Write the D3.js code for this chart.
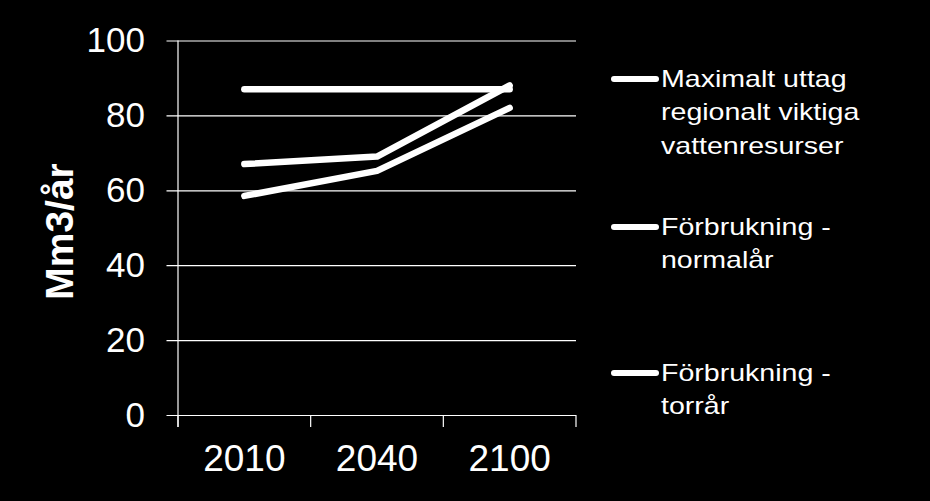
<!DOCTYPE html>
<html>
<head>
<meta charset="utf-8">
<script src="https://cdn.jsdelivr.net/npm/d3@7"></script>
<style>
  html, body { margin: 0; padding: 0; background: #000; }
  svg { display: block; }
  text { font-family: "Liberation Sans", Arial, sans-serif; fill: #fff; }
</style>
</head>
<body>
<svg id="chart" width="930" height="501"></svg>
<script>
const categories = ["2010", "2040", "2100"];
const maxUttag = [87, 87, 87];
const normalar = [67, 69, 88];
const torrar = [58.5, 65.2, 82];
const yTicks = [0, 20, 40, 60, 80, 100];
const seriesNames = [
  ["Maximalt uttag", "regionalt viktiga", "vattenresurser"],
  ["Förbrukning -", "normalår"],
  ["Förbrukning -", "torrår"]
];
const yTitle = "Mm3/år";

const svg = d3.select("#chart");
svg.append("rect").attr("width", 930).attr("height", 501).attr("fill", "#000");

const x = d3.scaleBand().domain(categories).range([178, 576]).padding(0);
const y = d3.scaleLinear().domain([0, 100]).range([415, 40.5]);

// gridlines + y labels
const gy = svg.append("g").attr("transform", "translate(576,0)")
  .call(d3.axisLeft(y).tickValues(yTicks).tickSize(576 - 166.5).tickPadding(21.5).tickFormat(d3.format("d")));
gy.select(".domain").remove();
gy.selectAll(".tick line").attr("stroke", "#fff").attr("stroke-width", 1.2);
gy.selectAll(".tick text").style("font-size", "35px").attr("fill", "#fff")
  .style("font-family", "'Liberation Sans', Arial, sans-serif");

// y axis line
svg.append("line").attr("x1", 178).attr("x2", 178).attr("y1", y(100)).attr("y2", 427)
  .attr("stroke", "#fff").attr("stroke-width", 1.2);

// x tick marks at category boundaries
const bounds = categories.map(c => x(c)).concat([x.range()[1]]);
svg.append("g").selectAll("line").data(bounds).join("line")
  .attr("x1", d => d).attr("x2", d => d).attr("y1", 415).attr("y2", 427)
  .attr("stroke", "#fff").attr("stroke-width", 1.2);

// x labels
const gx = svg.append("g").attr("transform", "translate(0,415)")
  .call(d3.axisBottom(x).tickSize(0).tickPadding(30));
gx.select(".domain").remove();
gx.selectAll(".tick text").style("font-size", "37px").attr("fill", "#fff")
  .style("font-family", "'Liberation Sans', Arial, sans-serif");

// y title
svg.append("text")
  .attr("transform", "translate(72.5,231.5) rotate(-90)")
  .attr("text-anchor", "middle")
  .style("font-size", "39px").style("font-weight", "bold")
  .text(yTitle);

// lines
const series = [maxUttag, normalar, torrar];
const line = d3.line().x((d, i) => x(categories[i]) + x.bandwidth() / 2).y(d => y(d));
svg.append("g").selectAll("path").data(series).join("path")
  .attr("d", d => line(d))
  .attr("fill", "none").attr("stroke", "#fff").attr("stroke-width", 6.5)
  .attr("stroke-linecap", "round").attr("stroke-linejoin", "round");

// legend
const legendY = [79, 227, 373];
const lg = svg.append("g");
seriesNames.forEach((lines, i) => {
  lg.append("line").attr("x1", 614).attr("x2", 656)
    .attr("y1", legendY[i]).attr("y2", legendY[i])
    .attr("stroke", "#fff").attr("stroke-width", 6).attr("stroke-linecap", "round");
  lines.forEach((t, j) => {
    lg.append("text")
      .attr("transform", `translate(661,${legendY[i] + 7.5 + j * 33.5}) scale(1.19,1)`)
      .style("font-size", "24px")
      .text(t);
  });
});
</script>
</body>
</html>
